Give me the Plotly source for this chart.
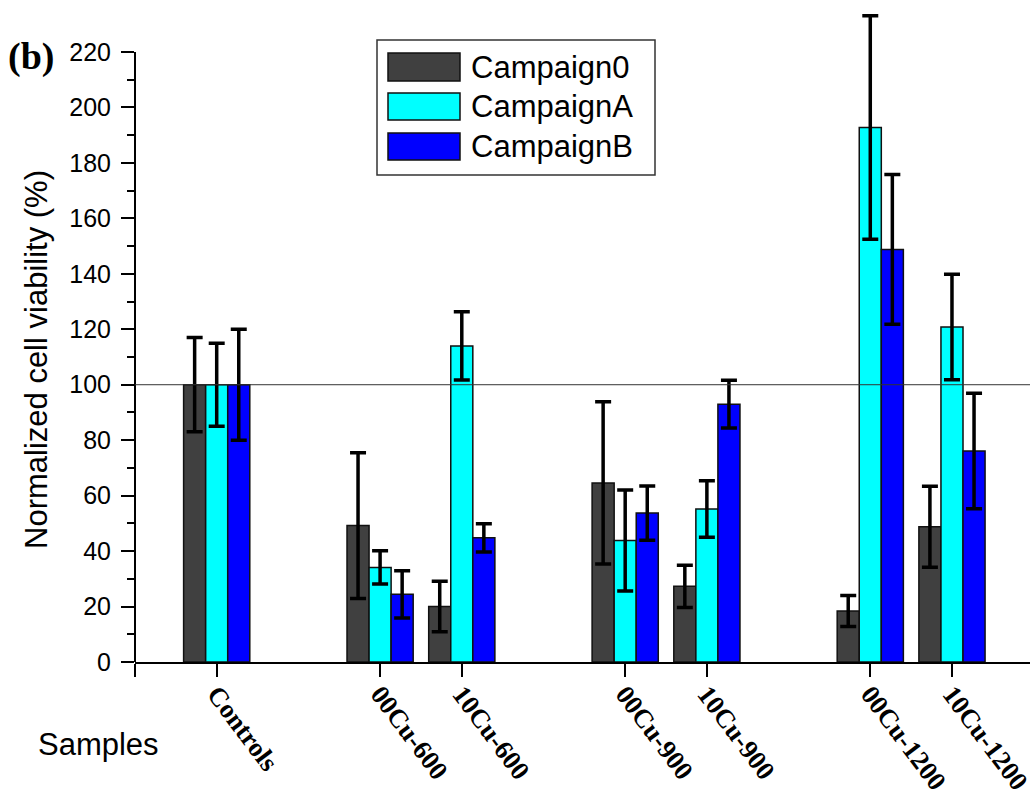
import plotly.graph_objects as go

# ---- data ----
groups = [["Controls"], ["00Cu-600", "10Cu-600"], ["00Cu-900", "10Cu-900"], ["00Cu-1200", "10Cu-1200"]]
series = ["Campaign0", "CampaignA", "CampaignB"]
campaign0 = [100, 49.2, 20.0, 64.6, 27.3, 18.4, 48.8]
campaign0_err = [17, 26.3, 9.1, 29.3, 7.6, 5.6, 14.6]
campaignA = [100, 34.1, 114.0, 43.8, 55.2, 192.8, 120.8]
campaignA_err = [15, 6.0, 12.3, 18.2, 10.2, 40.3, 19.0]
campaignB = [100, 24.4, 44.8, 53.7, 93.0, 148.8, 76.1]
campaignB_err = [20, 8.5, 5.1, 9.8, 8.6, 27.0, 20.8]
y_ticks = list(range(0, 221, 20))
y_minor = list(range(10, 220, 20))
y_axis_top = 220
ref_level = 100

# ---- derived positions (one empty slot between groups) ----
cats, xpos = [], []
p = 1
for g in groups:
    for c in g:
        cats.append(c)
        xpos.append(p)
        p += 1
    p += 1

# layout geometry (pixels)
L, R, T, B = 135, 1030, 8, 662
W, H = 1030, 796
px_per_unit = (B - 52) / y_axis_top
y_range_top = (B - T) / px_per_unit


def fx(px):
    return (px - L) / (R - L)


def fy(py):
    return (B - py) / (B - T)


colors = ["#404040", "#00FFFF", "#0000FF"]
values = [campaign0, campaignA, campaignB]
errors = [campaign0_err, campaignA_err, campaignB_err]

fig = go.Figure()
for name, v, e, col in zip(series, values, errors, colors):
    fig.add_trace(go.Bar(
        x=xpos, y=v, name=name,
        marker=dict(color=col, line=dict(color="#111111", width=1.5)),
        error_y=dict(type="data", array=e, visible=True, color="black", thickness=3.5, width=8),
        showlegend=False,
    ))

fig.update_layout(
    width=W, height=H,
    margin=dict(l=L, r=W - R, t=T, b=H - B, autoexpand=False),
    paper_bgcolor="white", plot_bgcolor="white",
    barmode="group", bargap=0.19, bargroupgap=0,
    font=dict(family="Liberation Sans, Arial, sans-serif", color="black"),
)
fig.update_xaxes(
    range=[0, 10.955], tickmode="array",
    tickvals=[0] + xpos, ticktext=[""] + cats,
    tickangle=53, tickfont=dict(family="Liberation Serif, Times New Roman, serif", size=26.5, weight="bold"),
    ticklabelstandoff=-9,
    ticks="outside", ticklen=13, tickwidth=2, tickcolor="black",
    showline=True, linewidth=2, linecolor="black", showgrid=False, zeroline=False,
    automargin=False, ticklabeloverflow="allow",
)
fig.update_yaxes(
    range=[0, y_range_top], tickmode="array", tickvals=y_ticks,
    tickfont=dict(size=25), ticklabelstandoff=5,
    ticks="outside", ticklen=13, tickwidth=2, tickcolor="black",
    minor=dict(tickvals=y_minor, ticks="outside", ticklen=7, tickwidth=2, tickcolor="black"),
    showline=False, showgrid=False, zeroline=False, automargin=False,
)

# y axis line only up to the top tick
fig.add_shape(type="line", xref="paper", x0=0, x1=0, yref="y", y0=0, y1=y_axis_top,
              line=dict(color="black", width=2), layer="above")
# reference line at 100 %
fig.add_shape(type="line", xref="paper", x0=0, x1=1, yref="y", y0=ref_level, y1=ref_level,
              line=dict(color="#333333", width=1), layer="above")

# custom legend
fig.add_shape(type="rect", xref="paper", yref="paper", x0=fx(377), x1=fx(655), y0=fy(175), y1=fy(40),
              line=dict(color="#333333", width=1.5), fillcolor="white", layer="above")
rows = [(53, 81), (93, 120), (133, 160)]
for (t, b), name, col in zip(rows, series, colors):
    fig.add_shape(type="rect", xref="paper", yref="paper",
                  x0=fx(388), x1=fx(460), y0=fy(b), y1=fy(t),
                  line=dict(color="#111111", width=1.5), fillcolor=col, layer="above")
    fig.add_annotation(xref="paper", yref="paper", x=fx(469), y=fy((t + b) / 2),
                       text=name, showarrow=False, xanchor="left", yanchor="middle",
                       font=dict(size=31))

fig.add_annotation(xref="paper", yref="paper", x=fx(37), y=fy(360),
                   text="Normalized cell viability (%)", textangle=-90, showarrow=False,
                   xanchor="center", yanchor="middle", font=dict(size=31))
fig.add_annotation(xref="paper", yref="paper", x=fx(36), y=fy(744),
                   text="Samples", showarrow=False, xanchor="left", yanchor="middle",
                   font=dict(size=31))
fig.add_annotation(xref="paper", yref="paper", x=fx(6), y=fy(56),
                   text="<b>(b)</b>", showarrow=False, xanchor="left", yanchor="middle",
                   font=dict(family="Liberation Serif, Times New Roman, serif", size=38))

fig.write_html("out.html", config={"displayModeBar": False},
               post_script="document.body.style.margin='0px';document.body.style.overflow='hidden';")
